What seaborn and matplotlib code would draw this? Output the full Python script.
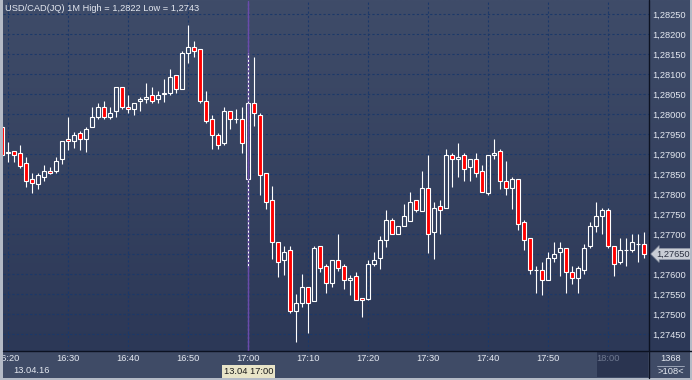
import numpy as np
import pandas as pd
import matplotlib
matplotlib.use("Agg")
import matplotlib.pyplot as plt
import seaborn as sns

# ---------------- data ----------------
times = pd.date_range("2016-04-13 16:19", periods=108, freq="min")

open_ = [1.279675, 1.279025, 1.279075, 1.279025, 1.278775, 1.278375, 1.27825, 1.278425, 1.278575, 1.278575,
         1.278875, 1.279375, 1.279325, 1.279525, 1.279375, 1.279675, 1.279925, 1.280175, 1.279925, 1.280075,
         1.280675, 1.280175, 1.280125, 1.280325, 1.280375, 1.280475, 1.280375, 1.2805, 1.280525, 1.280975,
         1.280625, 1.281525, 1.281675, 1.281625, 1.280325, 1.279875, 1.279475, 1.279275, 1.280075, 1.279875,
         1.279875, 1.278375, 1.280275, 1.279975, 1.278525, 1.27785, 1.2768, 1.27635, 1.2766, 1.275075,
         1.275275, 1.275675, 1.275325, 1.2767, 1.2762, 1.275775, 1.27635, 1.2762, 1.27585, 1.27595,
         1.2754, 1.275375, 1.27625, 1.2764, 1.27685, 1.27735, 1.277, 1.2772, 1.277325, 1.27785,
         1.277575, 1.27815, 1.27705, 1.2777, 1.27765, 1.278975, 1.278875, 1.278975, 1.278675, 1.278875,
         1.278575, 1.278025, 1.278975, 1.279075, 1.278325, 1.27815, 1.278375, 1.2773, 1.2769, 1.2761,
         1.2761, 1.27585, 1.2764, 1.27655, 1.27665, 1.27605, 1.2759, 1.2761, 1.2767, 1.2772,
         1.27745, 1.2776, 1.2767, 1.2763, 1.2766, 1.2766, 1.27675, 1.27675]
high = [1.279725, 1.2793, 1.279075, 1.279225, 1.278925, 1.278525, 1.278525, 1.278725, 1.278675, 1.278925,
        1.279325, 1.279925, 1.27955, 1.279575, 1.279675, 1.280175, 1.280275, 1.280325, 1.280175, 1.280675,
        1.280675, 1.280475, 1.280275, 1.280425, 1.280775, 1.280675, 1.280575, 1.280875, 1.281125, 1.280975,
        1.281575, 1.282225, 1.281825, 1.281625, 1.280575, 1.279975, 1.279525, 1.280175, 1.280075, 1.280125,
        1.280175, 1.281525, 1.281425, 1.280025, 1.278525, 1.2782, 1.2768, 1.2767, 1.2767, 1.2755,
        1.276, 1.275675, 1.2767, 1.2767, 1.27625, 1.27635, 1.277, 1.27625, 1.275975, 1.27605,
        1.2754, 1.27635, 1.27655, 1.27695, 1.2776, 1.2774, 1.2772, 1.27775, 1.27805, 1.27785,
        1.278575, 1.278975, 1.2778, 1.27785, 1.279125, 1.279025, 1.279275, 1.279025, 1.278875, 1.279025,
        1.278725, 1.278975, 1.279375, 1.279125, 1.278825, 1.278425, 1.278375, 1.27735, 1.2769, 1.2762,
        1.2763, 1.27655, 1.2768, 1.2768, 1.27665, 1.2762, 1.2762, 1.27675, 1.2773, 1.2778,
        1.27765, 1.27765, 1.2767, 1.2769, 1.2769, 1.277, 1.277, 1.27705]
low = [1.278925, 1.2788, 1.2788, 1.27865, 1.278175, 1.278025, 1.278125, 1.278325, 1.2785, 1.278525,
       1.27875, 1.2791, 1.27915, 1.2791, 1.27905, 1.279675, 1.279875, 1.279875, 1.279875, 1.279925,
       1.280125, 1.280025, 1.279975, 1.280075, 1.280275, 1.280275, 1.280275, 1.2803, 1.280475, 1.280525,
       1.280625, 1.281275, 1.281425, 1.280275, 1.279775, 1.279125, 1.279125, 1.279225, 1.279625, 1.279775,
       1.279025, 1.276175, 1.2797, 1.277975, 1.277625, 1.276375, 1.275925, 1.275975, 1.275025, 1.2743,
       1.275175, 1.274525, 1.275325, 1.27605, 1.275525, 1.275675, 1.276075, 1.275625, 1.275475, 1.27535,
       1.274925, 1.27535, 1.2762, 1.276125, 1.276675, 1.277, 1.277, 1.2772, 1.277325, 1.27755,
       1.277575, 1.276525, 1.276375, 1.277, 1.27765, 1.278175, 1.278425, 1.278325, 1.278325, 1.278425,
       1.27805, 1.277975, 1.278875, 1.278125, 1.277975, 1.277625, 1.2771, 1.2766, 1.276, 1.275525,
       1.275475, 1.27585, 1.2763, 1.27595, 1.275525, 1.27575, 1.275525, 1.276, 1.27665, 1.27705,
       1.277, 1.27665, 1.27595, 1.27625, 1.2762, 1.27655, 1.2763, 1.2764]
close = [1.278975, 1.27905, 1.278975, 1.2787, 1.278325, 1.278275, 1.278475, 1.278575, 1.278525, 1.278825,
         1.279325, 1.279325, 1.279475, 1.279375, 1.279625, 1.279925, 1.280175, 1.279925, 1.280025, 1.280675,
         1.280175, 1.280125, 1.280275, 1.280375, 1.280425, 1.280325, 1.280475, 1.280525, 1.280925, 1.280625,
         1.281525, 1.281675, 1.281575, 1.280325, 1.279825, 1.279475, 1.279225, 1.280075, 1.279875, 1.279875,
         1.279275, 1.280275, 1.280025, 1.278475, 1.2778, 1.2768, 1.2763, 1.27655, 1.275075, 1.275275,
         1.275675, 1.275275, 1.27665, 1.27615, 1.275775, 1.27635, 1.27615, 1.27585, 1.2759, 1.27535,
         1.27535, 1.27625, 1.27635, 1.27685, 1.27735, 1.277, 1.2772, 1.27745, 1.2778, 1.2776,
         1.27815, 1.277, 1.27765, 1.2776, 1.278975, 1.278875, 1.278925, 1.278625, 1.278875, 1.278525,
         1.27805, 1.278975, 1.279025, 1.278325, 1.27815, 1.278375, 1.27725, 1.27685, 1.2761, 1.2761,
         1.27585, 1.2764, 1.2765, 1.27665, 1.27605, 1.2759, 1.27615, 1.27665, 1.2772, 1.27745,
         1.2776, 1.2767, 1.27625, 1.2766, 1.2766, 1.2768, 1.27675, 1.2765]

tick_labels = ["16:20", "16:30", "16:40", "16:50", "17:00", "17:10",
               "17:20", "17:30", "17:40", "17:50", "18:00"]
y_ticks = [1.2745, 1.2750, 1.2755, 1.2760, 1.2765, 1.2770, 1.2775, 1.2780, 1.2785,
           1.2790, 1.2795, 1.2800, 1.2805, 1.2810, 1.2815, 1.2820, 1.2825]
title = "USD/CAD(JQ) 1M High = 1,2822 Low = 1,2743"
date_label = "13.04.16"
cross_time = "17:00"
cross_label = "13.04 17:00"
bar_count = "1368"
visible_label = ">108<"

# ---------------- style ----------------
sns.set_theme(style="dark")
plt.rcParams["font.family"] = ["Liberation Sans", "DejaVu Sans"]
FS = 6.7
TXT = "#e4e8f0"

df = pd.DataFrame({"t": times, "open": open_, "high": high, "low": low, "close": close})
df["pos"] = np.arange(len(df))
df["up"] = df["close"] >= df["open"]
df["btop"] = df[["open", "close"]].max(axis=1)
df["bbot"] = df[["open", "close"]].min(axis=1)
hm = times.strftime("%H:%M")
last = df["close"].iloc[-1]

W, H = 692, 380
fig = plt.figure(figsize=(W / 100, H / 100), dpi=100)

# background layer (figure pixels)
bg = fig.add_axes([0, 0, 1, 1])
bg.set_xlim(0, W); bg.set_ylim(H, 0); bg.axis("off"); bg.set_zorder(0)
top_c = np.array([63, 76, 105]) / 255
bot_c = np.array([44, 56, 87]) / 255
g = np.linspace(0, 1, 200)[:, None, None]
grad = top_c[None, None, :] * (1 - g) + bot_c[None, None, :] * g
bg.imshow(grad, extent=(0, W, 351, 0), aspect="auto", interpolation="bilinear")
bg.add_patch(plt.Rectangle((0, 351), W, 29, color="#3f4b66", lw=0))
bg.add_patch(plt.Rectangle((597, 352), 51, 25, color="#2a3450", lw=0))

# plot axes
ax = fig.add_axes([3 / W, 29 / H, 646 / W, 350 / H])
ax.set_zorder(1)
ax.patch.set_alpha(0)
ax.set_xlim(0.117, 107.78)
ax.set_ylim(1.274075, 1.282825)
for s in ax.spines.values():
    s.set_visible(False)

tick_pos = [int(np.where(hm == t)[0][0]) for t in tick_labels]
ax.set_xticks(tick_pos)
ax.set_xticklabels(tick_labels)
ax.set_yticks(y_ticks)
ax.set_yticklabels(["" if abs(v - last) < 1e-7 else f"{v:.5f}".replace(".", ",") for v in y_ticks])
ax.yaxis.tick_right()
ax.tick_params(axis="x", length=0, pad=2.2, labelsize=FS, labelcolor=TXT)
ax.tick_params(axis="y", length=0, pad=2.5, labelsize=FS, labelcolor=TXT)
ax.get_xticklabels()[-1].set_color("#6f7990")
ax.grid(True, color="#1b3869", lw=0.8, linestyle=(0, (2, 2)))
ax.set_axisbelow(True)

cross_pos = int(np.where(hm == cross_time)[0][0])
ax.axvline(cross_pos, color="#6a4cab", lw=1, zorder=1.5)

# candles
ax.vlines(df["pos"], df["btop"], df["high"], color="white", lw=0.8, zorder=2)
ax.vlines(df["pos"], df["low"], df["bbot"], color="white", lw=0.8, zorder=2)
up = df[df["up"]]
dn = df[~df["up"]]
ax.bar(up["pos"], up["btop"] - up["bbot"], bottom=up["bbot"], width=0.68,
       facecolor="none", edgecolor="white", lw=0.8, zorder=3)
ax.bar(dn["pos"], dn["btop"] - dn["bbot"], bottom=dn["bbot"], width=0.68,
       facecolor="#ff0000", edgecolor="white", lw=0.8, zorder=3)
ax.axvline(cross_pos, color="#6a4cab", lw=1, linestyle=(0, (1.5, 1.5)), zorder=4)

# last price marker
ax.annotate(f"{last:.5f}".replace(".", ","), xy=(1, last), xycoords=("axes fraction", "data"),
            xytext=(5.5, 0), textcoords="offset points", ha="left", va="center",
            fontsize=FS, color="#2a3040", annotation_clip=False, zorder=6,
            bbox=dict(boxstyle="larrow,pad=0.12", fc="#c9cdd5", ec="#8c94a4", lw=0.5))

# crosshair time label
ax.annotate(cross_label, xy=(cross_pos, 8.5), xycoords=("data", "figure pixels"),
            ha="center", va="center", fontsize=FS, color="#1a1a1a", annotation_clip=False,
            bbox=dict(boxstyle="square,pad=0.22", fc="#e8e4c8", ec="none"))

# overlay layer
ov = fig.add_axes([0, 0, 1, 1])
ov.set_xlim(0, W); ov.set_ylim(H, 0); ov.axis("off"); ov.set_zorder(3)
ov.patch.set_alpha(0)
ov.text(5, 8.5, title, color=TXT, fontsize=FS, va="center", ha="left")
ov.text(13, 370.5, date_label, color=TXT, fontsize=FS, va="center", ha="left")
ov.plot([3, W], [351, 351], color="#0c1222", lw=1)
ov.plot([649, 649], [0, 378], color="#0c1222", lw=1)
ov.text(671, 358.5, bar_count, color=TXT, fontsize=FS, va="center", ha="center")
ov.plot([657, 684], [365.5, 365.5], color="#aab2c4", lw=0.6)
ov.text(671, 371, visible_label, color=TXT, fontsize=FS, va="center", ha="center")
# outer border
ov.add_patch(plt.Rectangle((0, 0), 2.5, H, color="#b4bac6", lw=0))
ov.add_patch(plt.Rectangle((0, 377.5), W, 2.5, color="#b4bac6", lw=0))
ov.add_patch(plt.Rectangle((689.5, 0), 2.5, H, color="#b4bac6", lw=0))

fig.savefig("out.png", dpi=100)
